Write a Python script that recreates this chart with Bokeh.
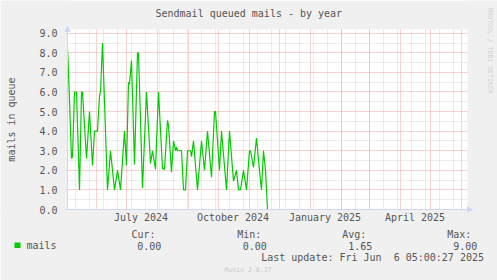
import math
import pandas as pd
from bokeh.plotting import figure
from bokeh.models import Range1d, FixedTicker, Label, BoxAnnotation, Arrow, NormalHead, NumeralTickFormatter
from bokeh.embed import file_html
from bokeh.resources import INLINE

# ---------------- data ----------------
title_text = "Sendmail queued mails - by year"
y_label = "mails in queue"
series_name = "mails"
period_start = "2024-05-03"
period_days = 400

day_offsets = [0, 1, 4, 5, 7, 9, 12, 14, 15, 19,
               22, 25, 27, 30, 32, 33, 35, 40, 43, 47,
               50, 53, 57, 59, 61, 62, 64, 67, 70, 71,
               75, 79, 83, 85, 88, 91, 95, 97, 100, 101,
               104, 106, 108, 109, 110, 114, 116, 118, 120, 123,
               124, 126, 130, 134, 135, 137, 140, 144, 147, 148,
               152, 154, 159, 162, 166, 169, 171, 173, 176, 179,
               182, 183, 186, 189, 192, 194, 196, 198, 200, 399.5]
mails = [8.2, 7.0, 2.6, 2.7, 6.0, 6.0, 1.0, 6.0, 6.0, 2.6,
         5.0, 2.25, 4.0, 4.0, 5.8, 6.0, 8.5, 1.0, 3.0, 1.0,
         2.0, 1.0, 4.0, 2.25, 6.5, 6.4, 7.6, 2.3, 8.0, 8.0,
         1.1, 6.0, 2.35, 3.0, 2.05, 6.0, 2.1, 2.05, 4.55, 4.3,
         1.9, 3.5, 3.0, 3.2, 3.0, 3.0, 1.0, 1.0, 3.0, 3.0,
         2.7, 3.5, 1.0, 3.5, 3.0, 2.0, 4.0, 1.65, 5.0, 5.0,
         2.0, 4.0, 1.0, 4.0, 1.45, 2.0, 1.0, 1.0, 2.0, 1.0,
         3.0, 3.0, 2.15, 3.65, 2.0, 1.0, 3.0, 2.0, 0.0, 0.0]

tick_dates = ["2024-07-15 12:00", "2024-10-15 12:00", "2025-01-15 12:00", "2025-04-15 12:00"]
tick_labels = ["July 2024", "October 2024", "January 2025", "April 2025"]
y_ticks = [0, 1, 2, 3, 4, 5, 6, 7, 8, 9]
y_minor = [0.5, 1.5, 2.5, 3.5, 4.5, 5.5, 6.5, 7.5, 8.5]
y_top = 9.19

stat_headers = ["Cur:", "Min:", "Avg:", "Max:"]
stat_values = ["0.00", "0.00", "1.65", "9.00"]
last_update = "Last update: Fri Jun \u00a06 05:00:27 2025"
footer = "Munin 2.0.37"
watermark = "RRDTOOL / TOBI OETIKER"

# ---------------- layout (pixels) ----------------
W, H = 497, 280
PL, PR, PT, PB = 67, 467, 29, 209          # plot area on the canvas
DAY_MS = 86400000.0

def ms(ts):
    return pd.Timestamp(ts).value / 1e6

t0 = ms(period_start)
t1 = t0 + period_days * DAY_MS
px_day = (PR - PL) / period_days            # 1 px per day
k = (PB - PT) / y_top                       # px per mail

xs = [pd.Timestamp(period_start) + pd.Timedelta(days=d) for d in day_offsets]

FONT = "DejaVu Sans Mono"
TXT = "#555555"
AXIS = "#CFD6F8"
RED = "#F2A6A6"
GRAY = "#D8D8D8"
BACK = "#F0F0F0"

x_lo = t0 - (PL / px_day) * DAY_MS
x_hi = t1 + ((W - PR) / px_day) * DAY_MS
y_lo = -(H - PB) / k
y_hi = y_top + PT / k

p = figure(width=W, height=H, x_axis_type="datetime",
           x_range=Range1d(x_lo, x_hi), y_range=Range1d(y_lo, y_hi),
           output_backend="svg", toolbar_location=None, title=None,
           min_border=0, min_border_left=0, min_border_right=0,
           min_border_top=0, min_border_bottom=0,
           background_fill_color="white", border_fill_color=BACK,
           outline_line_color=None)

# grids
month_starts = pd.date_range("2024-06-01", "2025-06-01", freq="MS")
biweekly = pd.date_range("2024-05-11", "2025-06-06", freq="14D")
p.xgrid.ticker = FixedTicker(ticks=[ms(m) for m in month_starts],
                             minor_ticks=[ms(b) for b in biweekly])
p.xgrid.grid_line_color = RED
p.xgrid.grid_line_dash = "1 1"
p.xgrid.minor_grid_line_color = GRAY
p.xgrid.minor_grid_line_dash = "1 1"

p.yaxis.ticker = FixedTicker(ticks=y_ticks, minor_ticks=y_minor)
p.ygrid.grid_line_color = RED
p.ygrid.grid_line_dash = "1 1"
p.ygrid.minor_grid_line_color = GRAY
p.ygrid.minor_grid_line_dash = "1 1"

# page background outside the plot area (covers grid overflow)
covers = [dict(right=t0), dict(left=t1), dict(bottom=y_top), dict(top=0)]
for c in covers:
    p.add_layout(BoxAnnotation(**c, fill_color=BACK, fill_alpha=1.0,
                               line_color=None, level="glyph"))

# axes drawn at the plot-area edges
p.xaxis.ticker = FixedTicker(ticks=[ms(t) for t in tick_dates])
p.xaxis.major_label_overrides = {ms(t): lab for t, lab in zip(tick_dates, tick_labels)}
p.xaxis.fixed_location = 0
p.xaxis.bounds = (t0, t1)
p.yaxis.formatter = NumeralTickFormatter(format="0.0")
p.yaxis.fixed_location = t0
p.yaxis.bounds = (0, y_top)
for ax in (p.xaxis, p.yaxis):
    ax.axis_line_color = AXIS
    ax.major_tick_line_color = AXIS
    ax.minor_tick_line_color = None
    ax.major_label_text_font = FONT
    ax.major_label_text_font_size = "10px"
    ax.major_label_text_color = TXT
p.xaxis.major_tick_out = 0
p.xaxis.major_tick_in = 0
p.xaxis.major_label_standoff = 2
p.yaxis.major_tick_out = 2
p.yaxis.major_tick_in = 0
p.yaxis.major_label_standoff = 6
p.yaxis.axis_label = y_label
p.yaxis.axis_label_text_font = FONT
p.yaxis.axis_label_text_font_size = "10px"
p.yaxis.axis_label_text_font_style = "normal"
p.yaxis.axis_label_text_color = TXT
p.yaxis.axis_label_standoff = 19

# data line
p.line(xs, mails, line_color="#00CC00", line_width=1.2)

# axis arrows
p.add_layout(Arrow(x_start=t1, y_start=0, x_end=t1 + 5 * DAY_MS, y_end=0, line_color=AXIS,
                   end=NormalHead(size=5, fill_color=AXIS, line_color=AXIS)))
p.add_layout(Arrow(x_start=t0, y_start=y_top - 0.2, x_end=t0, y_end=y_top + 3 / k,
                   line_color=AXIS,
                   end=NormalHead(size=5, fill_color=AXIS, line_color=AXIS)))

def lab(text, cx, cy, size="10px", color=TXT, align="left", angle=0.0):
    p.add_layout(Label(x=cx, y=H - cy, x_units="screen", y_units="screen",
                       text=text, text_font=FONT, text_font_size=size,
                       text_color=color, text_align=align, text_baseline="middle",
                       angle=angle))

lab(title_text, 155, 12.5)
lab(series_name, 26, 245)
header_x = [131, 236.7, 341.7, 446.7]
value_x = [136.7, 242.3, 347.7, 452.7]
for hx, vx, h, v in zip(header_x, value_x, stat_headers, stat_values):
    lab(h, hx, 233.5)
    lab(v, vx, 245)
lab(last_update, 260.7, 256.7)
lab(footer, 247.5, 269.5, size="6.5px", color="#C8C8C8", align="center")
lab(watermark, 489, 50, size="6.5px", color="#D0D0D0", align="center", angle=-math.pi / 2)

# legend swatch
p.add_layout(BoxAnnotation(left=14, right=20, top=H - 242, bottom=H - 247.5,
                           left_units="screen", right_units="screen",
                           top_units="screen", bottom_units="screen",
                           fill_color="#00CC00", fill_alpha=1.0, line_color=None))

open("out.html", "w").write(file_html(p, INLINE))
